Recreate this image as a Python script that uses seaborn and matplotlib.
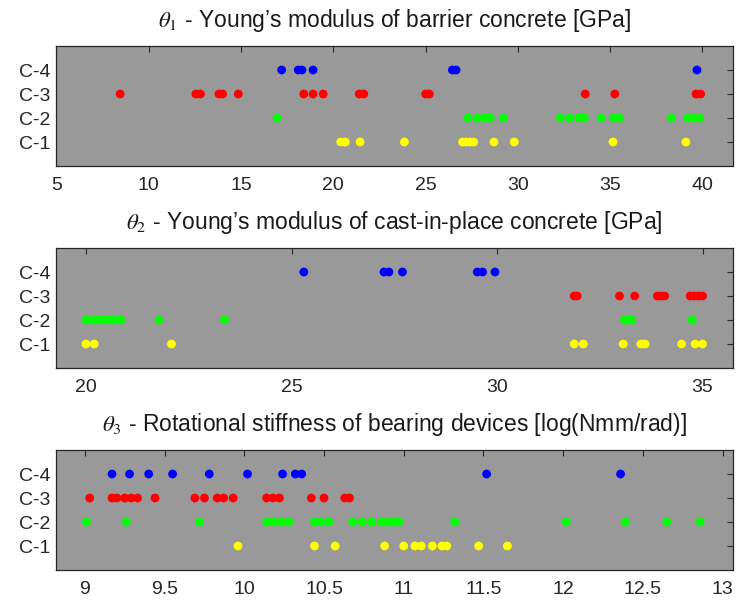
import matplotlib
matplotlib.use("Agg")
import matplotlib.pyplot as plt
import numpy as np
import pandas as pd
import seaborn as sns

# ---------------- data ----------------
cases = ["C-1", "C-2", "C-3", "C-4"]
case_colors = ["#ffff00", "#00ff00", "#ff0000", "#0000ff"]

titles = [
    r"$\theta_1$ - Young’s modulus of barrier concrete [GPa]",
    r"$\theta_2$ - Young’s modulus of cast-in-place concrete [GPa]",
    r"$\theta_3$ - Rotational stiffness of bearing devices [log(Nmm/rad)]",
]

# theta 1
t1_c1 = [20.4, 20.65, 21.45, 23.85, 27.0, 27.2, 27.4, 27.6, 28.7, 29.8, 35.15, 39.1]
t1_c2 = [16.95, 27.3, 27.8, 28.2, 28.5, 29.2, 32.3, 32.8, 33.3, 33.6, 34.5, 35.2, 35.5,
         38.3, 39.2, 39.5, 39.85]
t1_c3 = [8.45, 12.55, 12.8, 13.8, 14.0, 14.85, 18.4, 18.9, 19.45, 21.4, 21.65, 25.0, 25.2,
         33.65, 35.25, 39.65, 39.9]
t1_c4 = [17.2, 18.1, 18.3, 18.9, 26.45, 26.65, 39.7]

# theta 2
t2_c1 = [20.0, 20.2, 22.08, 31.88, 32.1, 33.07, 33.5, 33.6, 34.49, 34.82, 35.0]
t2_c2 = [20.0, 20.15, 20.3, 20.45, 20.6, 20.75, 20.85, 21.78, 23.37, 33.1, 33.2, 33.28, 34.75]
t2_c3 = [31.88, 31.95, 32.98, 33.35, 33.9, 34.0, 34.08, 34.7, 34.8, 34.9, 35.0]
t2_c4 = [25.3, 27.25, 27.37, 27.7, 29.52, 29.65, 29.95]

# theta 3
t3_c1 = [9.96, 10.44, 10.57, 10.88, 11.0, 11.07, 11.11, 11.18, 11.24, 11.27, 11.47, 11.65]
t3_c2 = [9.01, 9.26, 9.72, 10.14, 10.18, 10.23, 10.28, 10.44, 10.48, 10.53, 10.68, 10.74,
         10.8, 10.86, 10.9, 10.94, 10.97, 11.32, 12.02, 12.39, 12.65, 12.86]
t3_c3 = [9.03, 9.17, 9.2, 9.25, 9.29, 9.33, 9.44, 9.69, 9.75, 9.83, 9.87, 9.93, 10.14,
         10.18, 10.22, 10.42, 10.5, 10.63, 10.66]
t3_c4 = [9.17, 9.28, 9.4, 9.55, 9.78, 10.02, 10.24, 10.32, 10.36, 11.52, 12.36]

panels = [
    [t1_c1, t1_c2, t1_c3, t1_c4],
    [t2_c1, t2_c2, t2_c3, t2_c4],
    [t3_c1, t3_c2, t3_c3, t3_c4],
]
xlims = [(4.95, 41.65), (19.26, 35.74), (8.816, 13.065)]
xticks = [[5, 10, 15, 20, 25, 30, 35, 40],
          [20, 25, 30, 35],
          [9, 9.5, 10, 10.5, 11, 11.5, 12, 12.5, 13]]
xticklabels = [["5", "10", "15", "20", "25", "30", "35", "40"],
               ["20", "25", "30", "35"],
               ["9", "9.5", "10", "10.5", "11", "11.5", "12", "12.5", "13"]]

# ---------------- style ----------------
sns.set_style("white")
plt.rcParams["font.family"] = ["Liberation Sans", "DejaVu Sans"]
plt.rcParams["mathtext.fontset"] = "stix"

fig = plt.figure(figsize=(7.39, 6.11), dpi=100)
left, width, height = 0.0752, 0.9166, 0.1964
bottoms = [0.7283, 0.3977, 0.0671]

for i in range(3):
    rows = []
    for j, vals in enumerate(panels[i]):
        for v in vals:
            rows.append({"value": v, "row": j + 1, "case": cases[j]})
    df = pd.DataFrame(rows)
    ax = fig.add_axes([left, bottoms[i], width, height])
    ax.set_facecolor("#999999")
    sns.scatterplot(data=df, x="value", y="row", hue="case", hue_order=cases,
                    palette=case_colors, s=40, linewidth=0, legend=False, ax=ax, zorder=3)
    ax.set_xlim(*xlims[i])
    ax.set_ylim(0, 5)
    ax.set_xticks(xticks[i])
    ax.set_xticklabels(xticklabels[i])
    ax.set_yticks([1, 2, 3, 4])
    ax.set_yticklabels(cases)
    ax.set_xlabel("")
    ax.set_ylabel("")
    ax.tick_params(direction="in", top=True, right=True, length=4, width=0.8,
                   color="#262626", labelsize=14, labelcolor="#262626")
    ax.tick_params(axis="x", pad=8)
    ax.tick_params(axis="y", pad=4)
    for sp in ax.spines.values():
        sp.set_visible(True)
        sp.set_color("#262626")
        sp.set_linewidth(0.9)
    ax.set_title(titles[i], fontsize=16.5, color="#1a1a1a", pad=14)

fig.savefig("out.png", dpi=100)
